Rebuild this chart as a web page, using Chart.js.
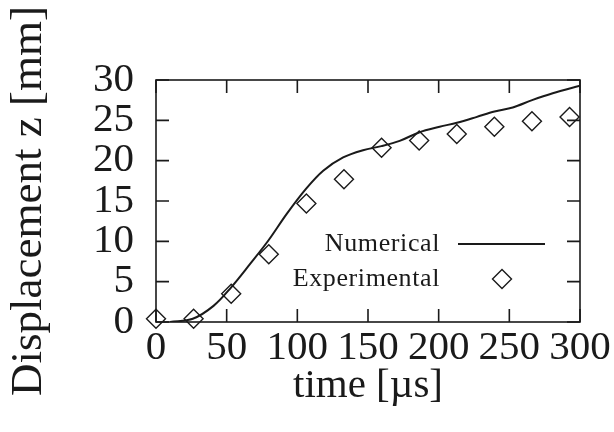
<!DOCTYPE html>
<html>
<head>
<meta charset="utf-8">
<script src="https://cdn.jsdelivr.net/npm/chart.js@4.4.0/dist/chart.umd.min.js"></script>
<style>
  html, body { margin: 0; padding: 0; background: #fff; }
  #wrap { width: 614px; height: 432px; }
</style>
</head>
<body>
<div id="wrap"><canvas id="c"></canvas></div>
<script>
// Numerical curve (time in µs, displacement in mm)
const numTime = [10, 26, 40.7, 53.2, 66.6, 79.5, 92.5, 106.1, 118.3, 132.4, 146.5, 159.5, 172.4, 186.1, 200.7, 212.9, 226.6, 239.5, 252.4, 266.1, 280.7, 300];
const numDisp = [0, 0.4, 2.0, 4.3, 7.2, 10.1, 13.4, 16.5, 18.75, 20.4, 21.3, 21.8, 22.45, 23.5, 24.2, 24.7, 25.4, 26.1, 26.6, 27.5, 28.35, 29.3];

// Experimental points
const expTime = [0, 26.6, 53.2, 79.8, 106.4, 133, 159.6, 186.2, 212.8, 239.4, 266, 292.6];
const expDisp = [0.4, 0.4, 3.5, 8.4, 14.7, 17.7, 21.6, 22.5, 23.3, 24.2, 24.9, 25.4];

const xTicks = [0, 50, 100, 150, 200, 250, 300];
const yTicks = [0, 5, 10, 15, 20, 25, 30];

const INK = "#1a1a1a";
const SERIF = "'Liberation Serif', 'DejaVu Serif', serif";

// frame + inward tick marks on all four sides
const framePlugin = {
  id: "frame",
  afterDatasetsDraw(chart) {
    const { ctx, chartArea: a, scales } = chart;
    const len = 13;
    ctx.save();
    ctx.strokeStyle = INK;
    ctx.lineWidth = 1.6;
    scales.x.ticks.forEach(t => {
      const px = scales.x.getPixelForValue(t.value);
      ctx.beginPath();
      ctx.moveTo(px, a.bottom); ctx.lineTo(px, a.bottom - len);
      ctx.moveTo(px, a.top); ctx.lineTo(px, a.top + len);
      ctx.stroke();
    });
    scales.y.ticks.forEach(t => {
      const py = scales.y.getPixelForValue(t.value);
      ctx.beginPath();
      ctx.moveTo(a.left, py); ctx.lineTo(a.left + len, py);
      ctx.moveTo(a.right, py); ctx.lineTo(a.right - len, py);
      ctx.stroke();
    });
    ctx.strokeRect(a.left, a.top, a.right - a.left, a.bottom - a.top);
    ctx.restore();
  }
};

// legend drawn inside the plot, lower right
const legendPlugin = {
  id: "innerLegend",
  afterDraw(chart) {
    const { ctx, chartArea: a } = chart;
    const textRight = a.right - 140;
    const row1 = a.bottom - 78;
    const row2 = a.bottom - 43;
    ctx.save();
    ctx.fillStyle = INK;
    ctx.font = "26px " + SERIF;
    ctx.letterSpacing = "0.6px";
    ctx.textAlign = "right";
    ctx.textBaseline = "middle";
    ctx.fillText("Numerical", textRight, row1);
    ctx.fillText("Experimental", textRight, row2);
    ctx.strokeStyle = INK;
    ctx.lineWidth = 2;
    ctx.beginPath();
    ctx.moveTo(textRight + 18, row1);
    ctx.lineTo(textRight + 105, row1);
    ctx.stroke();
    ctx.lineWidth = 1.4;
    ctx.fillStyle = "rgba(0,0,0,0)";
    Chart.helpers.drawPoint(ctx, { pointStyle: "rectRot", radius: 9.5, borderWidth: 1.4 }, textRight + 62, row2);
    ctx.restore();
  }
};

new Chart(document.getElementById("c"), {
  type: "scatter",
  data: {
    datasets: [
      {
        label: "Numerical",
        data: numTime.map((t, i) => ({ x: t, y: numDisp[i] })),
        showLine: true,
        borderColor: INK,
        borderWidth: 2,
        pointRadius: 0,
        tension: 0.35,
        fill: false,
      },
      {
        label: "Experimental",
        data: expTime.map((t, i) => ({ x: t, y: expDisp[i] })),
        pointStyle: "rectRot",
        pointRadius: 9.5,
        pointBorderWidth: 1.4,
        pointBorderColor: INK,
        pointBackgroundColor: "rgba(0,0,0,0)",
        clip: false,
      },
    ],
  },
  options: {
    responsive: true,
    maintainAspectRatio: false,
    animation: false,
    layout: { padding: { top: 80, right: 34, bottom: 0, left: 0 } },
    plugins: { legend: { display: false }, tooltip: { enabled: false } },
    scales: {
      x: {
        type: "linear",
        min: 0, max: 300,
        afterBuildTicks: s => { s.ticks = xTicks.map(v => ({ value: v })); },
        afterFit: s => { s.height = 110; s.paddingLeft = 0; s.paddingRight = 0; },
        grid: { display: false, drawTicks: false },
        border: { display: false },
        ticks: { color: INK, font: { family: SERIF, size: 41 }, padding: 2, maxRotation: 0, autoSkip: false },
        title: { display: true, text: "time [µs]", color: INK, font: { family: SERIF, size: 41 }, padding: { top: 0, bottom: 21 } },
      },
      y: {
        type: "linear",
        min: 0, max: 30,
        afterBuildTicks: s => { s.ticks = yTicks.map(v => ({ value: v })); },
        afterFit: s => { s.width = 156; s.paddingTop = 0; s.paddingBottom = 0; },
        grid: { display: false, drawTicks: false },
        border: { display: false },
        ticks: { color: INK, font: { family: SERIF, size: 41 }, padding: 22, autoSkip: false },
        title: { display: true, text: "Displacement z [mm]", color: INK, font: { family: SERIF, size: 45 }, padding: { top: 2, bottom: 0 } },
      },
    },
  },
  plugins: [framePlugin, legendPlugin],
});
</script>
</body>
</html>
